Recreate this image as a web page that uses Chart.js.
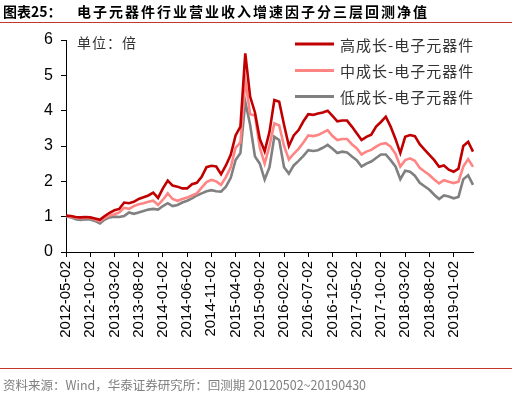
<!DOCTYPE html>
<html>
<head>
<meta charset="utf-8">
<script src="https://cdn.jsdelivr.net/npm/chart.js@4"></script>
<style>
  body { margin: 0; background: #fff; }
  #page { position: relative; width: 512px; height: 396px; overflow: hidden; font-family: "Noto Sans CJK SC", sans-serif; }
  #box { position: absolute; left: 0; top: 0; width: 512px; height: 396px; }
  .t { position: absolute; white-space: nowrap; }
  #tnum { left: 3px; top: 2px; font-size: 14px; font-weight: bold; line-height: 18px; color: #000; }
  #ttxt { left: 77px; top: 2px; font-size: 14px; font-weight: bold; line-height: 18px; letter-spacing: 2px; color: #000; }
  .rule { position: absolute; left: 0; width: 512px; height: 1px; background: #c0392b; }
  #src { left: 3px; top: 377px; font-size: 12.5px; line-height: 16px; color: #808080; }
</style>
</head>
<body>
<div id="page">
  <div id="box"><canvas id="graph"></canvas></div>
  <div class="t" id="tnum">图表25：</div>
  <div class="t" id="ttxt">电子元器件行业营业收入增速因子分三层回测净值</div>
  <div class="rule" style="top:22px"></div>
  <div class="rule" style="top:368px"></div>
  <div class="t" id="src">资料来源：Wind，华泰证券研究所：回测期 20120502~20190430</div>
</div>
<script>
// données (un point par mois, 2012-05 -> 2019-05)
const startYear = 2012, startMonth = 5, nbMonths = 85;

const highGrowth = [1.03,1.02,0.99,0.98,0.99,0.98,0.95,0.91,1.02,1.11,1.18,1.22,1.40,1.38,1.42,1.50,1.55,1.60,1.68,1.53,
  1.80,2.02,1.88,1.85,1.80,1.80,1.92,1.96,2.13,2.40,2.44,2.42,2.20,2.45,2.75,3.30,3.55,5.62,4.40,3.95,
  3.20,2.85,3.40,4.30,4.25,3.60,3.00,3.30,3.45,3.70,3.90,3.88,3.92,3.95,4.00,3.85,3.70,3.72,3.72,3.55,
  3.36,3.17,3.26,3.32,3.55,3.68,3.83,3.55,3.20,2.80,3.26,3.31,3.28,3.05,2.90,2.75,2.60,2.41,2.45,2.33,
  2.27,2.36,3.00,3.12,2.84];

const midGrowth = [1.02,1.00,0.97,0.96,0.97,0.96,0.92,0.87,0.97,1.03,1.07,1.12,1.25,1.22,1.30,1.35,1.38,1.42,1.45,1.33,
  1.48,1.66,1.50,1.45,1.50,1.54,1.60,1.66,1.82,1.98,2.04,2.00,1.90,2.12,2.40,2.95,3.10,4.87,3.90,3.86,
  2.95,2.50,3.00,3.64,3.58,3.00,2.62,2.78,2.92,3.10,3.30,3.28,3.31,3.38,3.45,3.28,3.17,3.20,3.20,3.05,
  2.94,2.76,2.84,2.89,2.98,3.06,3.08,2.98,2.78,2.42,2.60,2.65,2.58,2.38,2.28,2.18,2.05,1.94,2.03,1.99,
  1.95,1.99,2.42,2.63,2.41];

const lowGrowth = [1.01,0.98,0.93,0.91,0.93,0.92,0.88,0.81,0.92,0.98,1.00,0.99,1.02,1.12,1.08,1.12,1.16,1.20,1.22,1.20,
  1.30,1.38,1.30,1.33,1.40,1.45,1.52,1.60,1.66,1.72,1.75,1.72,1.71,1.85,2.10,2.60,2.80,4.25,3.60,2.70,
  2.50,2.05,2.40,3.26,3.17,2.40,2.22,2.45,2.58,2.72,2.88,2.86,2.88,2.95,3.03,2.92,2.80,2.84,2.82,2.70,
  2.60,2.42,2.50,2.56,2.66,2.76,2.76,2.60,2.42,2.06,2.30,2.27,2.16,1.96,1.86,1.76,1.62,1.50,1.60,1.57,
  1.52,1.56,2.06,2.17,1.90];

const seriesNames = ['高成长-电子元器件', '中成长-电子元器件', '低成长-电子元器件'];
const seriesColors = ['#c00000', '#ff8585', '#808080'];

// étiquettes de dates (jour 02 de chaque mois)
const labels = [];
for (let i = 0; i < nbMonths; i++) {
  const m = startMonth - 1 + i;
  const y = startYear + Math.floor(m / 12);
  const mm = String(m % 12 + 1).padStart(2, '0');
  labels.push(y + '-' + mm + '-02');
}

// légende dessinée à la main dans le coin haut droit
const legendPlugin = {
  id: 'legendMaison',
  afterDraw(chart) {
    const ctx = chart.ctx;
    const rows = [44, 70.5, 96.5];
    ctx.save();
    ctx.font = '15px "Noto Sans CJK SC"';
    ctx.letterSpacing = '1px';
    ctx.textBaseline = 'middle';
    seriesNames.forEach((name, i) => {
      ctx.strokeStyle = seriesColors[i];
      ctx.lineWidth = 3;
      ctx.beginPath();
      ctx.moveTo(295, rows[i]);
      ctx.lineTo(334, rows[i]);
      ctx.stroke();
      ctx.fillStyle = '#333';
      ctx.fillText(name, 340, rows[i] + 1);
    });
    // unité
    ctx.font = '14px "Noto Sans CJK SC"';
    ctx.fillText('单位：倍', 77, 43);
    ctx.restore();
  }
};

const ctx = document.getElementById('graph').getContext('2d');
const chartInstance = new Chart(ctx, {
  type: 'line',
  data: {
    labels: labels,
    datasets: [highGrowth, midGrowth, lowGrowth].map((d, i) => ({
      label: seriesNames[i],
      data: d,
      borderColor: seriesColors[i],
      borderWidth: 2.6,
      pointRadius: 0,
      tension: 0,
      fill: false,
      order: i  // le rouge dessiné en dernier
    }))
  },
  options: {
    responsive: true,
    maintainAspectRatio: false,
    animation: false,
    layout: { padding: { top: 40, right: 39, left: 0, bottom: 0 } },
    plugins: {
      legend: { display: false },
      tooltip: { enabled: false }
    },
    scales: {
      x: {
        type: 'category',
        afterFit(scale) { scale.height = 144; },
        border: { display: true, color: '#000', width: 1 },
        grid: { drawOnChartArea: false, drawTicks: true, tickLength: 5, color: '#000' },
        ticks: {
          autoSkip: false,
          maxRotation: 90,
          minRotation: 90,
          padding: 4,
          color: '#000',
          font: { family: 'Liberation Sans', size: 15 },
          callback: function(val, index) {
            return index % 5 === 0 ? this.getLabelForValue(val) : null;
          }
        }
      },
      y: {
        min: 0,
        max: 6,
        afterFit(scale) { scale.width = 66; },
        border: { display: true, color: '#000', width: 1 },
        grid: { drawOnChartArea: false, drawTicks: true, tickLength: 5, color: '#000' },
        ticks: {
          stepSize: 1,
          padding: 8,
          color: '#000',
          font: { family: 'Liberation Sans', size: 16 }
        }
      }
    }
  },
  plugins: [legendPlugin]
});
</script>
</body>
</html>
